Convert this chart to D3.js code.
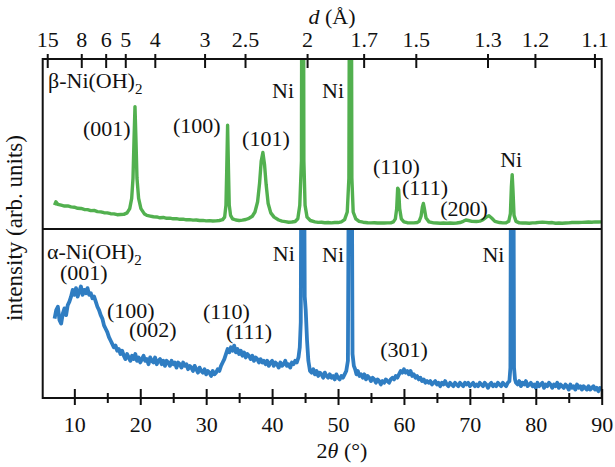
<!DOCTYPE html>
<html><head><meta charset="utf-8">
<script src="https://cdn.jsdelivr.net/npm/d3@7"></script>
<style>
body{margin:0;background:#fff}
svg text{font-family:"Liberation Serif","Times New Roman",Times,serif;fill:#111}
</style>
</head><body>
<svg id="chart" width="615" height="467" font-family="Liberation Serif, Times New Roman, serif"></svg>
<script>
// ---- data (2θ in degrees, intensity in arbitrary units) ----
const betaPattern = [
[7.0,14],[7.2,16],[7.5,14.5],[8.0,14],[8.5,13.5],[9.0,13.6],[9.5,13],[10.0,12.8],[10.5,12.2],[11.0,12.1],
[11.5,11.5],[12.0,11.4],[12.5,10.8],[13.0,10.9],[13.5,10.2],[14.0,10.1],[14.5,9.6],[15.0,9.5],[15.5,9],[16.0,8.9],
[16.5,8.4],[17.0,8.5],[17.5,8.6],[18.0,9.5],[18.4,12],[18.7,18],[18.9,30],[19.05,52],[19.2,72],[19.35,52],
[19.5,30],[19.75,18],[20.1,12],[20.6,9],[21.0,8],[21.5,7.6],[22.0,7.2],[22.5,7.1],[23.0,6.6],[23.5,6.8],
[24.0,6.3],[24.5,6.4],[25.0,6],[25.5,6.1],[26.0,5.7],[26.5,5.8],[27.0,5.4],[27.5,5.5],[28.0,5.2],[28.5,5.3],
[29.0,5],[29.5,5.1],[30.0,4.8],[30.5,4.9],[31.0,4.7],[31.5,4.8],[32.0,5],[32.5,5.5],[32.8,7],[33.0,14],
[33.12,35],[33.25,61],[33.38,35],[33.5,14],[33.7,8],[34.0,6],[34.5,5.3],[35.0,5],[35.5,5.2],[36.0,5.6],
[36.5,6.3],[37.0,7.5],[37.4,10],[37.8,16],[38.1,27],[38.35,40],[38.6,45],[38.85,38],[39.1,26],[39.4,15],
[39.8,9.5],[40.3,7],[41.0,5.3],[41.5,4.6],[42.0,4.3],[42.5,4],[43.0,4.1],[43.5,4.4],[43.9,6],[44.2,14],
[44.45,40],[44.55,250],[44.72,250],[44.82,40],[45.0,14],[45.3,7],[45.8,5],[46.5,4.2],[47.0,3.9],[47.5,4],
[48.0,3.7],[48.5,3.8],[49.0,3.6],[49.5,3.8],[50.0,3.8],[50.5,4.2],[51.0,5.5],[51.4,10],[51.65,30],[51.8,250],
[51.97,250],[52.1,30],[52.3,10],[52.7,6],[53.2,4.5],[53.8,4],[54.5,3.7],[55.0,3.6],[55.5,3.7],[56.0,3.5],
[56.5,3.6],[57.0,3.5],[57.5,3.6],[58.0,3.6],[58.4,4.2],[58.7,6],[58.9,12],[59.05,24],[59.2,23],[59.35,12],
[59.6,6],[60.0,4.2],[60.5,3.7],[61.0,3.6],[61.5,3.6],[62.0,3.8],[62.3,4.5],[62.6,7.5],[62.8,13],[62.95,15],
[63.1,12],[63.35,6.5],[63.8,4.2],[64.5,3.6],[65.0,3.5],[65.5,3.4],[66.0,3.5],[66.5,3.4],[67.0,3.5],[67.5,3.4],
[68.0,3.5],[68.5,3.8],[69.0,4.5],[69.4,5.3],[69.8,5],[70.3,4.5],[71.0,4.4],[71.5,4.6],[72.0,5.5],[72.5,7],
[72.9,7.8],[73.3,6.5],[73.8,4.5],[74.5,3.8],[75.0,3.6],[75.5,3.7],[75.9,4.5],[76.15,9],[76.3,25],[76.42,32],
[76.55,22],[76.7,8],[77.0,4.5],[77.5,3.6],[78.0,3.5],[78.5,3.5],[79.0,3.4],[79.5,3.6],[80.0,3.7],[80.5,3.9],
[81.0,4],[81.5,3.9],[82.0,3.7],[82.5,3.8],[83.0,3.4],[83.5,3.5],[84.0,3.4],[84.5,3.5],[85.0,3.6],[85.5,3.8],
[86.0,3.9],[86.5,3.8],[87.0,3.9],[87.5,4],[88.0,4.1],[88.5,4],[89.0,4.2],[89.5,4.1],[90.0,4.2]
];
const alphaPattern = [
[7.0,47],[7.25,52],[7.5,54],[7.75,46],[8.0,44],[8.25,50],[8.5,53],[8.75,49],[9.0,55],[9.25,57],
[9.5,60],[9.75,64],[10.0,61],[10.25,65],[10.5,60],[10.75,63],[11.0,66],[11.25,61],[11.5,64],[11.75,62],
[12.0,65],[12.25,61],[12.5,62],[12.75,59],[13.0,60],[13.25,57],[13.5,54],[13.75,52],[14.0,49],[14.25,47],
[14.5,43],[14.75,41],[15.0,39],[15.25,36],[15.5,34],[15.75,32],[16.0,30],[16.25,31],[16.5,28],[16.75,29],
[17.0,26],[17.25,28],[17.5,25],[17.75,23],[18.0,26],[18.25,24],[18.5,22],[18.75,25],[19.0,23],[19.25,26],
[19.5,22],[19.75,24],[20.0,21],[20.25,23],[20.5,25],[20.75,22],[21.0,23],[21.25,20],[21.5,24],[21.75,22],
[22.0,21],[22.25,24],[22.5,20],[22.75,22],[23.0,23],[23.25,20],[23.5,22],[23.75,19],[24.0,22],[24.25,21],
[24.5,19],[24.75,22],[25.0,20],[25.25,21],[25.5,18],[25.75,21],[26.0,20],[26.25,18],[26.5,21],[26.75,19],
[27.0,20],[27.25,17],[27.5,19],[27.75,18],[28.0,16],[28.25,19],[28.5,17],[28.75,15],[29.0,18],[29.25,16],
[29.5,15],[29.75,17],[30.0,14],[30.25,16],[30.5,15],[30.75,13],[31.0,16],[31.25,14],[31.5,15],[31.75,17],
[32.0,16],[32.25,19],[32.5,21],[32.75,23],[33.0,26],[33.25,29],[33.5,27],[33.75,30],[34.0,28],[34.25,31],
[34.5,27],[34.75,29],[35.0,26],[35.25,28],[35.5,25],[35.75,27],[36.0,24],[36.25,26],[36.5,25],[36.75,23],
[37.0,25],[37.25,22],[37.5,24],[37.75,23],[38.0,21],[38.25,23],[38.5,21],[38.75,22],[39.0,20],[39.25,22],
[39.5,19],[39.75,21],[40.0,22],[40.25,19],[40.5,21],[40.75,20],[41.0,18],[41.25,21],[41.5,19],[41.75,20],
[42.0,22],[42.25,19],[42.5,20],[42.75,18],[43.0,21],[43.25,20],[43.5,22],[43.75,21],[44.0,24],[44.2,30],
[44.35,45],[44.5,250],[44.75,250],[44.95,60],[45.1,52],[45.3,34],[45.5,22],[45.75,16],[46.0,15],[46.25,17],
[46.5,14],[46.75,16],[47.0,13],[47.25,15],[47.5,14],[47.75,12],[48.0,15],[48.25,13],[48.5,12],[48.75,14],
[49.0,12],[49.25,13],[49.5,11],[49.75,14],[50.0,12],[50.25,11],[50.5,13],[50.75,12],[51.0,14],[51.25,16],
[51.5,22],[51.75,250],[52.0,250],[52.2,26],[52.4,19],[52.6,17],[52.8,14],[53.0,16],[53.25,13],[53.5,14],
[53.75,12],[54.0,14],[54.25,11],[54.5,13],[54.75,12],[55.0,10],[55.25,12],[55.5,11],[55.75,9],[56.0,11],
[56.25,10],[56.5,8],[56.75,10],[57.0,9],[57.25,11],[57.5,10],[57.75,9],[58.0,11],[58.25,12],[58.5,11],
[58.75,13],[59.0,12],[59.25,14],[59.5,16],[59.75,15],[60.0,17],[60.25,15],[60.5,16],[60.75,14],[61.0,16],
[61.25,13],[61.5,14],[61.75,12],[62.0,13],[62.25,11],[62.5,12],[62.75,10],[63.0,11],[63.25,9],[63.5,10],
[63.75,9],[64.0,10],[64.25,8],[64.5,9],[64.75,10],[65.0,8],[65.25,9],[65.5,7],[65.75,9],[66.0,8],
[66.25,10],[66.5,8],[66.75,7],[67.0,9],[67.25,8],[67.5,7],[67.75,9],[68.0,8],[68.25,7],[68.5,9],
[68.75,8],[69.0,7],[69.25,9],[69.5,8],[69.75,9],[70.0,7],[70.25,8],[70.5,9],[70.75,7],[71.0,8],
[71.25,7],[71.5,9],[71.75,8],[72.0,7],[72.25,9],[72.5,8],[72.75,6],[73.0,8],[73.25,9],[73.5,7],
[73.75,8],[74.0,7],[74.25,9],[74.5,8],[74.75,7],[75.0,9],[75.25,8],[75.5,7],[75.75,9],[76.0,10],
[76.15,18],[76.3,250],[76.55,250],[76.7,18],[76.85,11],[77.0,9],[77.25,8],[77.5,10],[77.75,7],[78.0,9],
[78.25,8],[78.5,10],[78.75,7],[79.0,8],[79.25,9],[79.5,7],[79.75,8],[80.0,6],[80.25,9],[80.5,7],
[80.75,8],[81.0,9],[81.25,6],[81.5,8],[81.75,7],[82.0,9],[82.25,8],[82.5,6],[82.75,8],[83.0,7],
[83.25,9],[83.5,6],[83.75,8],[84.0,7],[84.25,6],[84.5,8],[84.75,7],[85.0,5],[85.25,8],[85.5,6],
[85.75,7],[86.0,5],[86.25,8],[86.5,6],[86.75,7],[87.0,5],[87.25,7],[87.5,6],[87.75,5],[88.0,7],
[88.25,5],[88.5,6],[88.75,7],[89.0,5],[89.25,6],[89.5,4],[89.75,6],[90.0,5]
];
const thetaMajorTicks = [10,20,30,40,50,60,70,80,90];
const thetaMinorTicks = [15,25,35,45,55,65,75,85];
const dTicks = [15,8,6,5,4,3,2.5,2,1.7,1.5,1.3,1.2,1.1];
const dTickLabels = ["15","8","6","5","4","3","2.5","2","1.7","1.5","1.3","1.2","1.1"];
// annotations: [text, 2θ at left edge, intensity at baseline]
const betaLabels = [
["(001)",11.3,54.7],["(100)",24.95,56.5],["(101)",35.45,48.8],["Ni",40.0,77],["Ni",47.57,77],
["(110)",55.3,32.4],["(111)",59.7,20],["(200)",65.5,7.6],["Ni",74.6,36.5]
];
const alphaLabels = [
["(001)",7.82,70],["(100)",14.95,47.6],["(002)",18.3,35.9],["(110)",29.5,47],["(111)",33.0,34.7],
["Ni",40.1,81.2],["Ni",47.57,80.6],["(301)",56.4,24.1],["Ni",71.9,80.6]
];
const betaName = ["β-Ni(OH)", "2"];
const alphaName = ["α-Ni(OH)", "2"];
const lambdaCu = 1.5406;

// ---- layout ----
const FF = "Liberation Serif, Times New Roman, serif";
const L = 42.7, R = 601.7, T = 59, M = 229, B = 398;
const svg = d3.select("#chart");
const x = d3.scaleLinear().domain([5.2, 90]).range([L, R]);
const yTop = d3.scaleLinear().domain([0, 100]).range([M, T]);
const yBot = d3.scaleLinear().domain([0, 100]).range([B, M]);
const d2theta = d => 2 * Math.asin(lambdaCu / (2 * d)) * 180 / Math.PI;

const defs = svg.append("defs");
defs.append("clipPath").attr("id","clipTop").append("rect").attr("x",L).attr("y",T).attr("width",R-L).attr("height",M-T);
defs.append("clipPath").attr("id","clipBot").append("rect").attr("x",L).attr("y",M).attr("width",R-L).attr("height",B-M);

const green = "#52b04f", blue = "#2f7dc2";
const lineTop = d3.line().x(d => x(d[0])).y(d => yTop(d[1]));
const lineBot = d3.line().x(d => x(d[0])).y(d => yBot(d[1]));

svg.append("path").datum(betaPattern).attr("clip-path","url(#clipTop)")
  .attr("d", lineTop).attr("fill","none").attr("stroke",green).attr("stroke-width",3.4).attr("stroke-linejoin","round");
svg.append("path").datum(alphaPattern).attr("clip-path","url(#clipBot)")
  .attr("d", lineBot).attr("fill","none").attr("stroke",blue).attr("stroke-width",3.8).attr("stroke-linejoin","round");

// frame
svg.append("rect").attr("x",L).attr("y",T).attr("width",R-L).attr("height",B-T)
  .attr("fill","none").attr("stroke","#111").attr("stroke-width",2);
svg.append("line").attr("x1",L).attr("x2",R).attr("y1",M).attr("y2",M).attr("stroke","#111").attr("stroke-width",2);

const FS = 22;
function styleAxis(g){
  g.attr("font-family", FF);
  g.select(".domain").remove();
  g.selectAll("line").attr("stroke","#111").attr("stroke-width",2);
}

// bottom axis: ticks crossing the line
svg.append("g").attr("transform",`translate(0,${B})`)
  .call(d3.axisBottom(x).tickValues(thetaMajorTicks).tickSizeInner(7).tickSizeOuter(0).tickFormat(d3.format("d")))
  .call(styleAxis)
  .call(g => g.selectAll("text").attr("y",34).attr("dy",0).attr("font-size",FS).attr("fill","#111"));
svg.append("g").attr("transform",`translate(0,${B})`)
  .call(d3.axisBottom(x).tickValues(thetaMajorTicks).tickSizeInner(-9).tickSizeOuter(0).tickFormat(""))
  .call(styleAxis);
svg.append("g").attr("transform",`translate(0,${B})`)
  .call(d3.axisBottom(x).tickValues(thetaMinorTicks).tickSizeInner(5).tickSizeOuter(0).tickFormat(""))
  .call(styleAxis);
svg.append("g").attr("transform",`translate(0,${B})`)
  .call(d3.axisBottom(x).tickValues(thetaMinorTicks).tickSizeInner(-5).tickSizeOuter(0).tickFormat(""))
  .call(styleAxis);

// top axis: d spacing
const dPos = dTicks.map(d2theta);
svg.append("g").attr("transform",`translate(0,${T})`)
  .call(d3.axisTop(x).tickValues(dPos).tickSizeInner(5).tickSizeOuter(0).tickFormat((d,i) => dTickLabels[i]))
  .call(styleAxis)
  .call(g => g.selectAll("text").attr("y",-12).attr("dy",0).attr("font-size",FS).attr("fill","#111"));
svg.append("g").attr("transform",`translate(0,${T})`)
  .call(d3.axisTop(x).tickValues(dPos).tickSizeInner(-9).tickSizeOuter(0).tickFormat(""))
  .call(styleAxis);

// axis titles
const tTop = svg.append("text").attr("x",332).attr("y",24).attr("text-anchor","middle").attr("font-size",FS);
tTop.append("tspan").attr("font-style","italic").text("d");
tTop.append("tspan").text(" (Å)");
const tBot = svg.append("text").attr("x",342).attr("y",458).attr("text-anchor","middle").attr("font-size",FS);
tBot.append("tspan").text("2");
tBot.append("tspan").attr("font-style","italic").text("θ");
tBot.append("tspan").text(" (°)");
svg.append("text").attr("transform","translate(22,228) rotate(-90)").attr("text-anchor","middle")
  .attr("font-size",FS+1).text("intensity (arb. units)");

// annotations
function annotate(list, yS){
  svg.append("g").selectAll("text").data(list).join("text")
    .attr("x", d => x(d[1])).attr("y", d => yS(d[2])).attr("font-size",FS).text(d => d[0]);
}
annotate(betaLabels, yTop);
annotate(alphaLabels, yBot);
function nameLabel(name, xv, yv){
  const t = svg.append("text").attr("x", x(xv)).attr("y", yv).attr("font-size",FS);
  t.append("tspan").text(name[0]);
  t.append("tspan").attr("font-size",15).attr("dy",6).text(name[1]);
}
nameLabel(betaName, 6.0, yTop(83));
nameLabel(alphaName, 5.85, yBot(82.4));
</script>
</body></html>
